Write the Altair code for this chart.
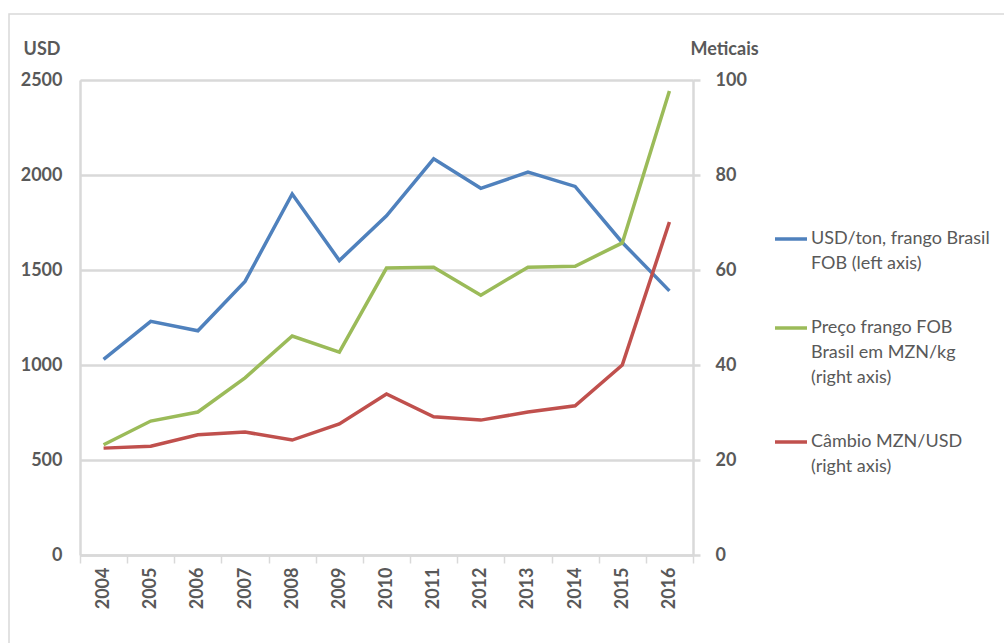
import json
import altair as alt
import pandas as pd

years = ["2004", "2005", "2006", "2007", "2008", "2009", "2010",
         "2011", "2012", "2013", "2014", "2015", "2016"]
usd_ton = [1030, 1230, 1180, 1440, 1900, 1550, 1785, 2085, 1930, 2015, 1940, 1645, 1390]
preco_mzn_kg = [23.2, 28.2, 30.1, 37.3, 46.1, 42.7, 60.4, 60.6, 54.7, 60.6, 60.8, 65.7, 97.7]
cambio_mzn_usd = [22.5, 22.9, 25.3, 25.9, 24.2, 27.6, 33.9, 29.1, 28.4, 30.1, 31.4, 40.0, 70.1]

series_names = ["USD/ton, frango Brasil FOB (left axis)",
                "Preço frango FOB Brasil em MZN/kg (right axis)",
                "Câmbio MZN/USD (right axis)"]
legend_lines = [["USD/ton, frango Brasil", "FOB (left axis)"],
                ["Preço frango FOB", "Brasil em MZN/kg", "(right axis)"],
                ["Câmbio MZN/USD", "(right axis)"]]
colors = ["#4F81BD", "#9BBB59", "#C0504D"]

left_ticks = [0, 500, 1000, 1500, 2000, 2500]
right_ticks = [0, 20, 40, 60, 80, 100]

FONT = "Lato"
TXT = "#595959"
GRID = "#D9D9D9"

df_left = pd.DataFrame({"year": years, "value": usd_ton, "series": series_names[0]})
df_right = pd.concat([
    pd.DataFrame({"year": years, "value": preco_mzn_kg, "series": series_names[1]}),
    pd.DataFrame({"year": years, "value": cambio_mzn_usd, "series": series_names[2]}),
])

# legend label expression: multi-line labels
parts = []
for name, lines in zip(series_names, legend_lines):
    parts.append(f"datum.label === {json.dumps(name, ensure_ascii=False)} ? {json.dumps(lines, ensure_ascii=False)}")
label_expr = " : ".join(parts) + " : datum.label"

x_enc = alt.X(
    "year:O",
    sort=years,
    scale=alt.Scale(type="band", paddingInner=0, paddingOuter=0),
    axis=alt.Axis(
        title=None, labelAngle=270, labelAlign="right", labelBaseline="middle",
        labelFont=FONT, labelFontSize=18, labelFontWeight="bold", labelColor=TXT,
        labelPadding=4, tickBand="extent", ticks=True, tickSize=8, tickColor=GRID,
        tickWidth=1.5, domainColor=GRID, domainWidth=2.5, grid=False,
    ),
)

color_enc = alt.Color(
    "series:N",
    scale=alt.Scale(domain=series_names, range=colors),
    legend=alt.Legend(
        orient="none", legendX=693, legendY=141, title=None,
        symbolType="stroke", symbolSize=1024, symbolStrokeWidth=3.5,
        labelFont=FONT, labelFontSize=18, labelColor=TXT, labelLimit=400,
        labelOffset=2, rowPadding=37, padding=0, labelExpr=label_expr,
    ),
)

left = alt.Chart(df_left).mark_line(strokeWidth=3.5).encode(
    x=x_enc,
    y=alt.Y(
        "value:Q",
        scale=alt.Scale(domain=[0, 2500], nice=False),
        axis=alt.Axis(
            orient="left", values=left_ticks, format="d", grid=True, gridColor=GRID,
            gridWidth=2.5, domainColor=GRID, domainWidth=2.5, ticks=False,
            labelFont=FONT, labelFontSize=18, labelFontWeight="bold", labelColor=TXT,
            labelPadding=18,
            title="USD", titleAngle=0, titleAlign="right", titleBaseline="middle",
            titleX=-20, titleY=-31, titleFont=FONT, titleFontSize=18,
            titleFontWeight="bold", titleColor=TXT,
        ),
    ),
    color=color_enc,
)

right = alt.Chart(df_right).mark_line(strokeWidth=3.5).encode(
    x=x_enc,
    y=alt.Y(
        "value:Q",
        scale=alt.Scale(domain=[0, 100], nice=False),
        axis=alt.Axis(
            orient="right", values=right_ticks, format="d", grid=False,
            domainColor=GRID, domainWidth=2.5, ticks=True, tickSize=7,
            tickColor=GRID, tickWidth=2.5,
            labelFont=FONT, labelFontSize=18, labelFontWeight="bold", labelColor=TXT,
            labelPadding=15,
            title="Meticais", titleAngle=0, titleAlign="left", titleBaseline="middle",
            titleX=-3, titleY=-31, titleFont=FONT, titleFontSize=18,
            titleFontWeight="bold", titleColor=TXT,
        ),
    ),
    color=color_enc,
    order=alt.Order("series:N"),
)

border = alt.Chart(pd.DataFrame({"a": [0]})).mark_rect(
    filled=False, stroke=GRID, strokeWidth=1.5
).encode(
    x=alt.value(-71), x2=alt.value(1000), y=alt.value(-66), y2=alt.value(700)
)

chart = alt.layer(left, right, border).resolve_scale(
    y="independent"
).properties(
    width=613, height=475,
    autosize=alt.AutoSizeParams(type="none"),
    padding={"left": 80, "top": 80, "right": 311, "bottom": 88},
    background="white",
).configure_view(
    strokeWidth=0
).configure(
    style={"guide-label": {"lineHeight": 25}}
)

chart.save("out.html", embed_options={"renderer": "svg", "actions": False})
